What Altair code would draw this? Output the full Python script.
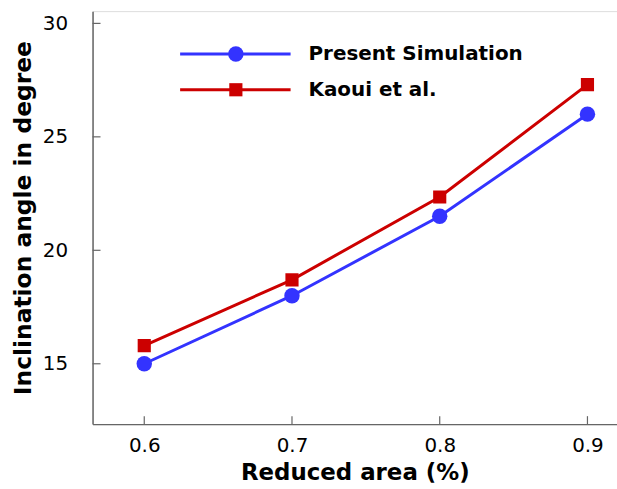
import altair as alt
import pandas as pd

reduced_area = [0.6, 0.7, 0.8, 0.9]
present_sim = [15.0, 18.0, 21.5, 26.0]
kaoui = [15.8, 18.7, 22.35, 27.3]
x_ticks = [0.6, 0.7, 0.8, 0.9]
y_ticks = [15, 20, 25, 30]
series_names = ["Present Simulation", "Kaoui et al."]
series_colors = ["#3333ff", "#cc0000"]
series_shapes = ["circle", "square"]
marker_sizes = [240, 175]

FONT = "DejaVu Sans"
W, H = 527, 415

df = pd.DataFrame({
    "x": reduced_area * 2,
    "y": present_sim + kaoui,
    "s": [series_names[0]] * 4 + [series_names[1]] * 4,
})

xs = alt.Scale(domain=[0.565, 0.92], nice=False, zero=False)
ys = alt.Scale(domain=[12.34, 30.54], nice=False, zero=False)
color = alt.Color("s:N", scale=alt.Scale(domain=series_names, range=series_colors), legend=None)
shape = alt.Shape("s:N", scale=alt.Scale(domain=series_names, range=series_shapes), legend=None)
size = alt.Size("s:N", scale=alt.Scale(domain=series_names, range=marker_sizes), legend=None)

xax = alt.Axis(values=x_ticks, format=".1f", grid=False, tickSize=0, labelFont=FONT,
               labelFontSize=20, labelColor="black", labelPadding=12, domainColor="#666666",
               domainWidth=1.5, title="Reduced area (%)", titleFont=FONT, titleFontSize=23,
               titleFontWeight="bold", titleColor="black", titleY=49, titleBaseline="middle")
yax = alt.Axis(values=y_ticks, grid=False, tickSize=0, labelFont=FONT, labelFontSize=20,
               labelColor="black", labelPadding=25, domainColor="#666666", domainWidth=1.5,
               title="Inclination angle in degree", titleFont=FONT, titleFontSize=23.5,
               titleFontWeight="bold", titleColor="black", titleX=-69, titleY=H / 2,
               titleAngle=270, titleAlign="center", titleBaseline="middle")

base = alt.Chart(df)
lines = base.mark_line(strokeWidth=3, clip=True).encode(
    x=alt.X("x:Q", scale=xs, axis=xax),
    y=alt.Y("y:Q", scale=ys, axis=yax),
    color=color,
)
points = base.mark_point(filled=True, opacity=1, clip=True).encode(
    x=alt.X("x:Q", scale=xs, axis=xax),
    y=alt.Y("y:Q", scale=ys, axis=yax),
    color=color, shape=shape, size=size,
)

xt = alt.Chart(pd.DataFrame({"x": x_ticks})).mark_rule(color="#666666", strokeWidth=1.2).encode(
    x=alt.X("x:Q", scale=xs, axis=xax), y=alt.value(H), y2=alt.value(H - 8))
yt = alt.Chart(pd.DataFrame({"y": y_ticks})).mark_rule(color="#666666", strokeWidth=1.2).encode(
    y=alt.Y("y:Q", scale=ys, axis=yax), x=alt.value(0), x2=alt.value(8))

layers = [lines, points, xt, yt]
legend_rows_y = [43, 79]
for i, name in enumerate(series_names):
    ldf = pd.DataFrame({"s": [name]})
    yv = alt.value(legend_rows_y[i])
    layers.append(alt.Chart(ldf).mark_rule(strokeWidth=3).encode(
        x=alt.value(88), x2=alt.value(199), y=yv, color=color))
    layers.append(alt.Chart(ldf).mark_point(filled=True, opacity=1).encode(
        x=alt.value(144), y=yv, color=color, shape=shape, size=size))
    layers.append(alt.Chart(ldf).mark_text(align="left", baseline="middle", font=FONT,
                                           fontSize=20, fontWeight="bold", color="black").encode(
        x=alt.value(217), y=yv, text="s:N"))

chart = alt.layer(*layers).properties(
    width=W, height=H,
    autosize=alt.AutoSizeParams(type="none"),
    padding={"left": 93, "top": 10, "right": 0, "bottom": 64},
).configure_view(stroke=None).configure(background="white")

chart.save("out.html", embed_options={"renderer": "svg", "actions": False})
